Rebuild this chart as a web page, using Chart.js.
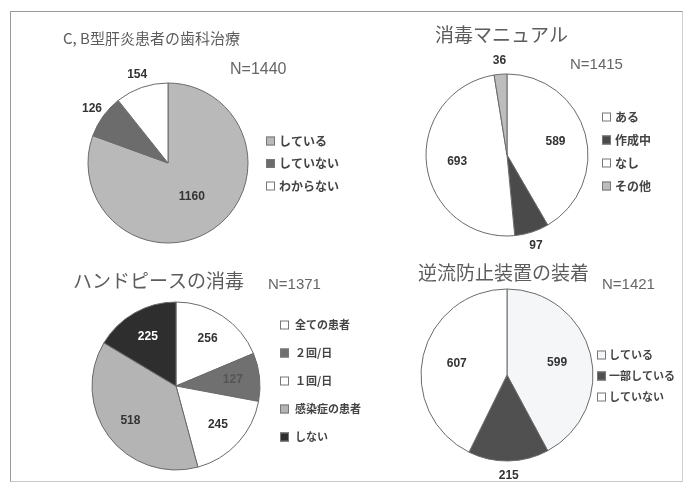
<!DOCTYPE html>
<html>
<head>
<meta charset="utf-8">
<script src="https://cdn.jsdelivr.net/npm/chart.js@4"></script>
<style>
  body { margin: 0; background: #fff; width: 685px; height: 484px; overflow: hidden; position: relative; }
  #frame { position: absolute; left: 10px; top: 11px; width: 671px; height: 469px; border: 1px solid #9a9a9a; border-right-color: #d0d0d0; border-bottom-color: #c8c8c8; }
  canvas { position: absolute; left: 0; top: 0; }
</style>
</head>
<body>
<div id="frame"></div>
<canvas id="treat" width="685" height="484"></canvas>
<canvas id="manual" width="685" height="484"></canvas>
<canvas id="hand" width="685" height="484"></canvas>
<canvas id="valve" width="685" height="484"></canvas>
<script>
// survey answers, one set per pie
const treatTitle = 'C, B型肝炎患者の歯科治療';
const treatLabels = ['している', 'していない', 'わからない'];
const treatValues = [1160, 126, 154];

const manualTitle = '消毒マニュアル';
const manualLabels = ['ある', '作成中', 'なし', 'その他'];
const manualValues = [589, 97, 693, 36];

const handTitle = 'ハンドピースの消毒';
const handLabels = ['全ての患者', '２回/日', '１回/日', '感染症の患者', 'しない'];
const handValues = [256, 127, 245, 518, 225];

const valveTitle = '逆流防止装置の装着';
const valveLabels = ['している', '一部している', 'していない'];
const valveValues = [599, 215, 607];

const JP = '"Noto Sans CJK JP", sans-serif';
const NUM = '"Liberation Sans", Arial, sans-serif';

const sum = (arr) => arr.reduce((a, b) => a + b, 0);

// draws title, N=, legend and the value labels on each pie
const pieDecor = {
  id: 'pieDecor',
  afterDraw(chart, args, opts) {
    const c = chart.ctx;
    const ds = chart.data.datasets[0];
    const meta = chart.getDatasetMeta(0);
    c.save();
    c.textBaseline = 'middle';

    // title
    c.fillStyle = '#5c5c5c';
    c.font = opts.titleFont;
    c.textAlign = 'left';
    c.fillText(opts.title, opts.titleX, opts.titleY);

    // N=
    c.fillStyle = '#666';
    c.font = opts.nFont;
    c.fillText('N=' + sum(ds.data), opts.nX, opts.nY);

    // legend
    chart.data.labels.forEach((label, i) => {
      const y = opts.legendY + i * opts.legendGap;
      c.fillStyle = ds.backgroundColor[i];
      c.fillRect(opts.legendX, y - 4.5, 9, 9);
      c.strokeStyle = '#777';
      c.lineWidth = 1;
      c.strokeRect(opts.legendX + 0.5, y - 4, 8, 8);
      c.fillStyle = '#444';
      c.font = opts.legendFont;
      c.fillText(label, opts.legendX + opts.legendText, y);
    });

    // values
    c.textAlign = 'center';
    c.font = 'bold 12px ' + NUM;
    meta.data.forEach((arc, i) => {
      const p = arc.getProps(['x', 'y', 'startAngle', 'endAngle', 'outerRadius'], true);
      const mid = (p.startAngle + p.endAngle) / 2;
      const f = opts.outer.includes(i) ? 1.17 : opts.inner;
      c.fillStyle = opts.valueColors[i] || '#333';
      c.fillText(ds.data[i], p.x + Math.cos(mid) * p.outerRadius * f, p.y + Math.sin(mid) * p.outerRadius * f);
    });
    c.restore();
  }
};

// every pie gets its own full-size canvas; padding puts the centre at (cx, cy)
function makePie(id, labels, values, colors, cx, cy, r, decor) {
  const canvas = document.getElementById(id);
  const s = 10;
  return new Chart(canvas.getContext('2d'), {
    type: 'pie',
    data: {
      labels: labels,
      datasets: [{
        data: values,
        backgroundColor: colors,
        borderColor: '#6a6a6a',
        borderWidth: 1
      }]
    },
    options: {
      responsive: false,
      animation: false,
      events: [],
      radius: r,
      layout: {
        padding: { left: cx - s, right: canvas.width - cx - s, top: cy - s, bottom: canvas.height - cy - s }
      },
      plugins: {
        legend: { display: false },
        tooltip: { enabled: false },
        pieDecor: decor
      }
    },
    plugins: [pieDecor]
  });
}

makePie('treat', treatLabels, treatValues, ['#b9b9b9', '#6c6c6c', '#ffffff'], 168, 163, 80, {
  title: treatTitle, titleX: 63, titleY: 38, titleFont: '15px ' + JP,
  nX: 230, nY: 70, nFont: '16px ' + NUM,
  legendX: 266, legendY: 141, legendGap: 22.5, legendText: 13, legendFont: 'bold 12px ' + JP,
  outer: [1, 2], inner: 0.52, valueColors: []
});

makePie('manual', manualLabels, manualValues, ['#ffffff', '#4a4a4a', '#ffffff', '#bdbdbd'], 507, 155, 81, {
  title: manualTitle, titleX: 435, titleY: 35, titleFont: '19px ' + JP,
  nX: 570, nY: 65, nFont: '15px ' + NUM,
  legendX: 602, legendY: 117, legendGap: 23, legendText: 13, legendFont: 'bold 12px ' + JP,
  outer: [1, 3], inner: 0.62, valueColors: []
});

makePie('hand', handLabels, handValues, ['#ffffff', '#707070', '#ffffff', '#b4b4b4', '#2e2e2e'], 176, 386, 84, {
  title: handTitle, titleX: 73, titleY: 281, titleFont: '19px ' + JP,
  nX: 268, nY: 285, nFont: '15px ' + NUM,
  legendX: 280, legendY: 325, legendGap: 28, legendText: 15, legendFont: 'bold 11px ' + JP,
  outer: [], inner: 0.68, valueColors: ['#333', '#555', '#333', '#333', '#ffffff']
});

makePie('valve', valveLabels, valveValues, ['#f4f6f8', '#505050', '#ffffff'], 507, 375, 86, {
  title: valveTitle, titleX: 418, titleY: 273, titleFont: '19px ' + JP,
  nX: 602, nY: 285, nFont: '15px ' + NUM,
  legendX: 597, legendY: 355, legendGap: 21, legendText: 12, legendFont: 'bold 11px ' + JP,
  outer: [1], inner: 0.6, valueColors: []
});
</script>
</body>
</html>
